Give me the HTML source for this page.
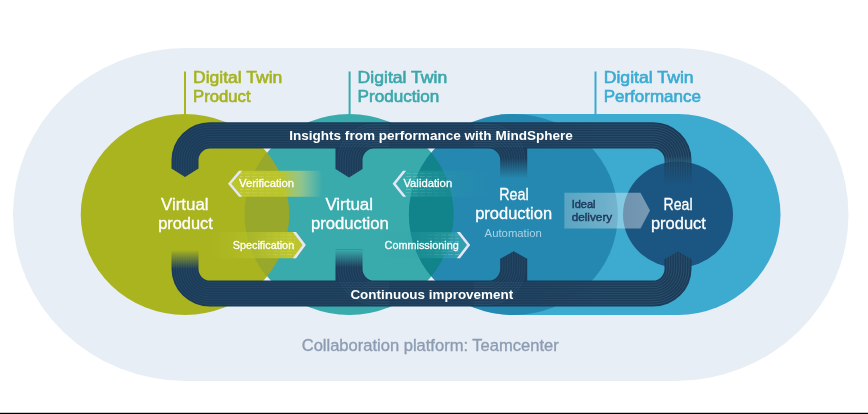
<!DOCTYPE html>
<html><head><meta charset="utf-8">
<style>
html,body{margin:0;padding:0;background:#fff;width:868px;height:414px;overflow:hidden}
svg{display:block}
text{font-family:"Liberation Sans",sans-serif}
</style></head>
<body>
<svg width="868" height="414" viewBox="0 0 868 414">
<defs>
  <clipPath id="cGreen"><ellipse cx="185" cy="214.5" rx="104.25" ry="100.5"/></clipPath>
  <clipPath id="cTeal"><ellipse cx="349.3" cy="214.5" rx="104.25" ry="100.5"/></clipPath>
  <clipPath id="cBand"><path d="M171.5,168.5 L171.5,160.10 A38.50,37.90 0 0 1 210.00,122.2 L653.00,122.2 A38.50,37.90 0 0 1 691.50,160.10 L691.50,192 L664.5,192 L664.5,160.10 A11.5,11.5 0 0 0 653.00,148.6 L527.20,148.6 L527.20,182 L500.2,182 L500.2,160.10 A11.5,11.5 0 0 0 488.70,148.6 L374.00,148.6 A11.5,11.5 0 0 0 362.50,160.10 L362.50,169 L349.00,177.4 L335.5,169 L335.5,148.6 L210.00,148.6 A11.5,11.5 0 0 0 198.50,160.10 L198.50,168.5 L185.00,177 Z"/><path d="M171.5,246 L171.5,269.00 A38.50,37.60 0 0 0 210.00,306.6 L653.00,306.6 A38.50,37.60 0 0 0 691.50,269.00 L691.50,259.3 L678.00,251.6 L664.5,259.3 L664.5,269.00 A11.5,11.5 0 0 1 653.00,280.5 L527.20,280.5 L527.20,258.8 L513.70,251.3 L500.2,258.8 L500.2,269.00 A11.5,11.5 0 0 1 488.70,280.5 L374.00,280.5 A11.5,11.5 0 0 1 362.50,269.00 L362.50,246 L335.5,246 L335.5,280.5 L210.00,280.5 A11.5,11.5 0 0 1 198.50,269.00 L198.50,246 Z"/></clipPath>
  <linearGradient id="gVer" x1="228" x2="322" y1="0" y2="0" gradientUnits="userSpaceOnUse">
    <stop offset="0" stop-color="#BCC62B" stop-opacity="1"/>
    <stop offset="0.58" stop-color="#BCC62B" stop-opacity="0.95"/>
    <stop offset="0.78" stop-color="#C8D47A" stop-opacity="0.6"/>
    <stop offset="1" stop-color="#D0DA9A" stop-opacity="0"/>
  </linearGradient>
  <linearGradient id="gSpe" x1="212" x2="306" y1="0" y2="0" gradientUnits="userSpaceOnUse">
    <stop offset="0" stop-color="#BCC62B" stop-opacity="0"/>
    <stop offset="0.45" stop-color="#BCC62B" stop-opacity="0.55"/>
    <stop offset="0.8" stop-color="#BCC62B" stop-opacity="1"/>
    <stop offset="1" stop-color="#BCC62B" stop-opacity="1"/>
  </linearGradient>
  <linearGradient id="gVal" x1="392" x2="488" y1="0" y2="0" gradientUnits="userSpaceOnUse">
    <stop offset="0" stop-color="#3AB0AE" stop-opacity="0.7"/>
    <stop offset="0.3" stop-color="#2AA3A6" stop-opacity="0.4"/>
    <stop offset="1" stop-color="#2AA3A6" stop-opacity="0"/>
  </linearGradient>
  <linearGradient id="gCom" x1="368" x2="470" y1="0" y2="0" gradientUnits="userSpaceOnUse">
    <stop offset="0" stop-color="#2AA3A6" stop-opacity="0"/>
    <stop offset="0.6" stop-color="#2AA3A6" stop-opacity="0.35"/>
    <stop offset="1" stop-color="#3AB0AE" stop-opacity="0.7"/>
  </linearGradient>
  <linearGradient id="gStripe" x1="160" x2="700" y1="0" y2="0" gradientUnits="userSpaceOnUse">
    <stop offset="0" stop-color="#5C9DB0" stop-opacity="0.15"/>
    <stop offset="0.7" stop-color="#5C9DB0" stop-opacity="0.18"/>
    <stop offset="0.82" stop-color="#5C9DB0" stop-opacity="0.27"/>
    <stop offset="1" stop-color="#5C9DB0" stop-opacity="0.27"/>
  </linearGradient>
  <linearGradient id="gIdeal" x1="564" x2="650" y1="0" y2="0" gradientUnits="userSpaceOnUse">
    <stop offset="0" stop-color="#fff" stop-opacity="0.24"/>
    <stop offset="0.6" stop-color="#fff" stop-opacity="0.36"/>
    <stop offset="1" stop-color="#fff" stop-opacity="0.4"/>
  </linearGradient>
  <pattern id="pDash" x="0" y="0.6" width="7" height="3.25" patternUnits="userSpaceOnUse">
    <rect x="0" y="0" width="5" height="0.8" fill="#fff"/>
  </pattern>
  <linearGradient id="mL" x1="0" x2="1" y1="0" y2="0">
    <stop offset="0" stop-color="#fff"/><stop offset="1" stop-color="#000"/>
  </linearGradient>
  <linearGradient id="mR" x1="0" x2="1" y1="0" y2="0">
    <stop offset="0" stop-color="#000"/><stop offset="1" stop-color="#fff"/>
  </linearGradient>
  <mask id="mkL" maskContentUnits="objectBoundingBox"><rect width="1" height="1" fill="url(#mL)"/></mask>
  <mask id="mkR" maskContentUnits="objectBoundingBox"><rect width="1" height="1" fill="url(#mR)"/></mask>
  <linearGradient id="mDown" x1="0" x2="0" y1="0" y2="1">
    <stop offset="0" stop-color="#fff"/><stop offset="1" stop-color="#000"/>
  </linearGradient>
  <linearGradient id="mUp" x1="0" x2="0" y1="0" y2="1">
    <stop offset="0" stop-color="#000"/><stop offset="1" stop-color="#fff"/>
  </linearGradient>
  <mask id="bandMask" maskUnits="userSpaceOnUse" x="0" y="0" width="868" height="414">
    <rect x="0" y="0" width="868" height="414" fill="#fff"/>
    <rect x="497" y="158" width="34" height="20" fill="url(#mDown)"/>
    <rect x="497" y="177.9" width="34" height="8" fill="#000"/>
    <rect x="663" y="156" width="30" height="28" fill="url(#mDown)"/>
    <rect x="663" y="184" width="30" height="10" fill="#000"/>
    <rect x="170" y="250" width="30" height="19" fill="url(#mUp)"/>
    <rect x="170" y="244" width="30" height="6" fill="#000"/>
    <rect x="334" y="249.7" width="30" height="17.5" fill="url(#mUp)"/>
    <rect x="334" y="244" width="30" height="5.7" fill="#000"/>
  </mask>
</defs>

<!-- light background pill -->
<rect x="13" y="48" width="835.5" height="333" rx="173" ry="166.5" fill="#E8EEF6"/>

<!-- light-blue pill -->
<rect x="409.5" y="114" width="371" height="201" rx="102.5" ry="100.5" fill="#3DAAD0"/>

<!-- circles -->
<ellipse cx="185" cy="214.5" rx="104.25" ry="100.5" fill="#A9B41F"/>
<ellipse cx="349.3" cy="214.5" rx="104.25" ry="100.5" fill="#3AABAC"/>
<ellipse cx="349.3" cy="214.5" rx="104.75" ry="101" fill="#97A82A" clip-path="url(#cGreen)"/>
<ellipse cx="513.6" cy="214.5" rx="104.25" ry="100.5" fill="#2588B0"/>
<ellipse cx="513.6" cy="214.5" rx="104.75" ry="101" fill="#11838A" clip-path="url(#cTeal)"/>
<ellipse cx="678" cy="214.5" rx="55" ry="53" fill="#1B5581"/>

<!-- arrows -->
<polygon points="239,170.8 322,170.8 322,196.8 239,196.8 228.2,183.8" fill="url(#gVer)"/>
<polygon points="239,170.8 228,183.8 239,196.8 242.2,196.8 231.2,183.8 242.2,170.8" fill="#E6E6F8"/>
<polygon points="403,170.8 488,170.8 488,196.8 403,196.8 392.7,183.8" fill="url(#gVal)"/>
<polygon points="403,170.8 392.6,183.8 403,196.8 406.2,196.8 395.8,183.8 406.2,170.8" fill="#E6E6F8"/>
<polygon points="212,232 296,232 305.6,245 296,258.2 212,258.2" fill="url(#gSpe)"/>
<polygon points="296,232 305.8,245.1 296,258.2 292.8,258.2 302.6,245.1 292.8,232" fill="#E6E6F8"/>
<polygon points="368,232 460,232 470,245 460,258.2 368,258.2" fill="url(#gCom)"/>
<polygon points="460,232 470.2,245.1 460,258.2 456.8,258.2 467,245.1 456.8,232" fill="#E6E6F8"/>
<g opacity="0.22">
<rect x="240" y="171.5" width="55" height="25" fill="url(#pDash)" mask="url(#mkL)"/>
<rect x="404" y="171.5" width="50" height="25" fill="url(#pDash)" mask="url(#mkL)"/>
<rect x="250" y="232.5" width="45" height="25" fill="url(#pDash)" mask="url(#mkR)"/>
<rect x="415" y="232.5" width="44" height="25" fill="url(#pDash)" mask="url(#mkR)"/>
</g>
<polygon points="564.4,192.8 640.5,192.8 650,210.6 640.5,228.6 564.4,228.6" fill="url(#gIdeal)"/>

<!-- bands -->
<g mask="url(#bandMask)">
  <path fill="#1B3B59" d="M171.5,168.5 L171.5,160.10 A38.50,37.90 0 0 1 210.00,122.2 L653.00,122.2 A38.50,37.90 0 0 1 691.50,160.10 L691.50,192 L664.5,192 L664.5,160.10 A11.5,11.5 0 0 0 653.00,148.6 L527.20,148.6 L527.20,182 L500.2,182 L500.2,160.10 A11.5,11.5 0 0 0 488.70,148.6 L374.00,148.6 A11.5,11.5 0 0 0 362.50,160.10 L362.50,169 L349.00,177.4 L335.5,169 L335.5,148.6 L210.00,148.6 A11.5,11.5 0 0 0 198.50,160.10 L198.50,168.5 L185.00,177 Z"/>
  <path fill="#1B3B59" d="M171.5,246 L171.5,269.00 A38.50,37.60 0 0 0 210.00,306.6 L653.00,306.6 A38.50,37.60 0 0 0 691.50,269.00 L691.50,259.3 L678.00,251.6 L664.5,259.3 L664.5,269.00 A11.5,11.5 0 0 1 653.00,280.5 L527.20,280.5 L527.20,258.8 L513.70,251.3 L500.2,258.8 L500.2,269.00 A11.5,11.5 0 0 1 488.70,280.5 L374.00,280.5 A11.5,11.5 0 0 1 362.50,269.00 L362.50,246 L335.5,246 L335.5,280.5 L210.00,280.5 A11.5,11.5 0 0 1 198.50,269.00 L198.50,246 Z"/>
  <g clip-path="url(#cBand)">
    <path d="M173.95,182 L173.95,160.10 A36.05,35.50 0 0 1 210.00,124.60 L653.00,124.60 A36.05,35.50 0 0 1 689.05,160.10 L689.05,192 M173.95,246 L173.95,269.00 A36.05,35.23 0 0 0 210.00,304.23 L653.00,304.23 A36.05,35.23 0 0 0 689.05,269.00 L689.05,246 M176.41,182 L176.41,160.10 A33.59,33.10 0 0 1 210.00,127.00 L653.00,127.00 A33.59,33.10 0 0 1 686.59,160.10 L686.59,192 M176.41,246 L176.41,269.00 A33.59,32.85 0 0 0 210.00,301.85 L653.00,301.85 A33.59,32.85 0 0 0 686.59,269.00 L686.59,246 M178.86,182 L178.86,160.10 A31.14,30.70 0 0 1 210.00,129.40 L653.00,129.40 A31.14,30.70 0 0 1 684.14,160.10 L684.14,192 M178.86,246 L178.86,269.00 A31.14,30.48 0 0 0 210.00,299.48 L653.00,299.48 A31.14,30.48 0 0 0 684.14,269.00 L684.14,246 M181.32,182 L181.32,160.10 A28.68,28.30 0 0 1 210.00,131.80 L653.00,131.80 A28.68,28.30 0 0 1 681.68,160.10 L681.68,192 M181.32,246 L181.32,269.00 A28.68,28.11 0 0 0 210.00,297.11 L653.00,297.11 A28.68,28.11 0 0 0 681.68,269.00 L681.68,246 M183.77,182 L183.77,160.10 A26.23,25.90 0 0 1 210.00,134.20 L653.00,134.20 A26.23,25.90 0 0 1 679.23,160.10 L679.23,192 M183.77,246 L183.77,269.00 A26.23,25.74 0 0 0 210.00,294.74 L653.00,294.74 A26.23,25.74 0 0 0 679.23,269.00 L679.23,246 M186.23,182 L186.23,160.10 A23.77,23.50 0 0 1 210.00,136.60 L653.00,136.60 A23.77,23.50 0 0 1 676.77,160.10 L676.77,192 M186.23,246 L186.23,269.00 A23.77,23.36 0 0 0 210.00,292.36 L653.00,292.36 A23.77,23.36 0 0 0 676.77,269.00 L676.77,246 M188.68,182 L188.68,160.10 A21.32,21.10 0 0 1 210.00,139.00 L653.00,139.00 A21.32,21.10 0 0 1 674.32,160.10 L674.32,192 M188.68,246 L188.68,269.00 A21.32,20.99 0 0 0 210.00,289.99 L653.00,289.99 A21.32,20.99 0 0 0 674.32,269.00 L674.32,246 M191.14,182 L191.14,160.10 A18.86,18.70 0 0 1 210.00,141.40 L653.00,141.40 A18.86,18.70 0 0 1 671.86,160.10 L671.86,192 M191.14,246 L191.14,269.00 A18.86,18.62 0 0 0 210.00,287.62 L653.00,287.62 A18.86,18.62 0 0 0 671.86,269.00 L671.86,246 M193.59,182 L193.59,160.10 A16.41,16.30 0 0 1 210.00,143.80 L653.00,143.80 A16.41,16.30 0 0 1 669.41,160.10 L669.41,192 M193.59,246 L193.59,269.00 A16.41,16.25 0 0 0 210.00,285.25 L653.00,285.25 A16.41,16.25 0 0 0 669.41,269.00 L669.41,246 M196.05,182 L196.05,160.10 A13.95,13.90 0 0 1 210.00,146.20 L653.00,146.20 A13.95,13.90 0 0 1 666.95,160.10 L666.95,192 M196.05,246 L196.05,269.00 A13.95,13.87 0 0 0 210.00,282.87 L653.00,282.87 A13.95,13.87 0 0 0 666.95,269.00 L666.95,246 M337.95,182 L337.95,160.10 A36.05,35.50 0 0 1 374.00,124.60 L389.00,124.60 M337.95,246 L337.95,269.00 A36.05,35.23 0 0 0 374.00,304.23 L389.00,304.23 M524.75,182 L524.75,160.10 A36.05,35.50 0 0 0 488.70,124.60 L473.70,124.60 M524.75,246 L524.75,269.00 A36.05,35.23 0 0 1 488.70,304.23 L473.70,304.23 M340.41,182 L340.41,160.10 A33.59,33.10 0 0 1 374.00,127.00 L389.00,127.00 M340.41,246 L340.41,269.00 A33.59,32.85 0 0 0 374.00,301.85 L389.00,301.85 M522.29,182 L522.29,160.10 A33.59,33.10 0 0 0 488.70,127.00 L473.70,127.00 M522.29,246 L522.29,269.00 A33.59,32.85 0 0 1 488.70,301.85 L473.70,301.85 M342.86,182 L342.86,160.10 A31.14,30.70 0 0 1 374.00,129.40 L389.00,129.40 M342.86,246 L342.86,269.00 A31.14,30.48 0 0 0 374.00,299.48 L389.00,299.48 M519.84,182 L519.84,160.10 A31.14,30.70 0 0 0 488.70,129.40 L473.70,129.40 M519.84,246 L519.84,269.00 A31.14,30.48 0 0 1 488.70,299.48 L473.70,299.48 M345.32,182 L345.32,160.10 A28.68,28.30 0 0 1 374.00,131.80 L389.00,131.80 M345.32,246 L345.32,269.00 A28.68,28.11 0 0 0 374.00,297.11 L389.00,297.11 M517.38,182 L517.38,160.10 A28.68,28.30 0 0 0 488.70,131.80 L473.70,131.80 M517.38,246 L517.38,269.00 A28.68,28.11 0 0 1 488.70,297.11 L473.70,297.11 M347.77,182 L347.77,160.10 A26.23,25.90 0 0 1 374.00,134.20 L389.00,134.20 M347.77,246 L347.77,269.00 A26.23,25.74 0 0 0 374.00,294.74 L389.00,294.74 M514.93,182 L514.93,160.10 A26.23,25.90 0 0 0 488.70,134.20 L473.70,134.20 M514.93,246 L514.93,269.00 A26.23,25.74 0 0 1 488.70,294.74 L473.70,294.74 M350.23,182 L350.23,160.10 A23.77,23.50 0 0 1 374.00,136.60 L389.00,136.60 M350.23,246 L350.23,269.00 A23.77,23.36 0 0 0 374.00,292.36 L389.00,292.36 M512.47,182 L512.47,160.10 A23.77,23.50 0 0 0 488.70,136.60 L473.70,136.60 M512.47,246 L512.47,269.00 A23.77,23.36 0 0 1 488.70,292.36 L473.70,292.36 M352.68,182 L352.68,160.10 A21.32,21.10 0 0 1 374.00,139.00 L389.00,139.00 M352.68,246 L352.68,269.00 A21.32,20.99 0 0 0 374.00,289.99 L389.00,289.99 M510.02,182 L510.02,160.10 A21.32,21.10 0 0 0 488.70,139.00 L473.70,139.00 M510.02,246 L510.02,269.00 A21.32,20.99 0 0 1 488.70,289.99 L473.70,289.99 M355.14,182 L355.14,160.10 A18.86,18.70 0 0 1 374.00,141.40 L389.00,141.40 M355.14,246 L355.14,269.00 A18.86,18.62 0 0 0 374.00,287.62 L389.00,287.62 M507.56,182 L507.56,160.10 A18.86,18.70 0 0 0 488.70,141.40 L473.70,141.40 M507.56,246 L507.56,269.00 A18.86,18.62 0 0 1 488.70,287.62 L473.70,287.62 M357.59,182 L357.59,160.10 A16.41,16.30 0 0 1 374.00,143.80 L389.00,143.80 M357.59,246 L357.59,269.00 A16.41,16.25 0 0 0 374.00,285.25 L389.00,285.25 M505.11,182 L505.11,160.10 A16.41,16.30 0 0 0 488.70,143.80 L473.70,143.80 M505.11,246 L505.11,269.00 A16.41,16.25 0 0 1 488.70,285.25 L473.70,285.25 M360.05,182 L360.05,160.10 A13.95,13.90 0 0 1 374.00,146.20 L389.00,146.20 M360.05,246 L360.05,269.00 A13.95,13.87 0 0 0 374.00,282.87 L389.00,282.87 M502.65,182 L502.65,160.10 A13.95,13.90 0 0 0 488.70,146.20 L473.70,146.20 M502.65,246 L502.65,269.00 A13.95,13.87 0 0 1 488.70,282.87 L473.70,282.87" fill="none" stroke="url(#gStripe)" stroke-width="0.75"/>
  </g>
</g>

<!-- header lines -->
<rect x="184" y="71.5" width="2" height="43" fill="#A9B41F"/>
<rect x="348.6" y="71.5" width="2" height="43" fill="#3AABAC"/>
<rect x="594.5" y="71.5" width="2" height="43" fill="#3DAAD0"/>

<!-- header text -->
<g font-size="16.5" stroke-width="0.6">
<text x="193" y="83" fill="#A6B31E" stroke="#A6B31E" textLength="89.3" lengthAdjust="spacingAndGlyphs">Digital Twin</text>
<text x="193" y="101.8" fill="#A6B31E" stroke="#A6B31E" textLength="57.6" lengthAdjust="spacingAndGlyphs">Product</text>
<text x="357.6" y="83" fill="#3BA7AA" stroke="#3BA7AA" textLength="89.7" lengthAdjust="spacingAndGlyphs">Digital Twin</text>
<text x="357.6" y="101.8" fill="#3BA7AA" stroke="#3BA7AA" textLength="81.8" lengthAdjust="spacingAndGlyphs">Production</text>
<text x="603.7" y="83" fill="#3AABD3" stroke="#3AABD3" textLength="90" lengthAdjust="spacingAndGlyphs">Digital Twin</text>
<text x="603.7" y="101.8" fill="#3AABD3" stroke="#3AABD3" textLength="97.2" lengthAdjust="spacingAndGlyphs">Performance</text>
</g>

<!-- circle labels -->
<g font-size="16.3" fill="#FFFFFF" stroke="#FFFFFF" stroke-width="0.3">
<text x="160.9" y="210.3" textLength="47.7" lengthAdjust="spacingAndGlyphs">Virtual</text>
<text x="158.2" y="229.3" textLength="54.6" lengthAdjust="spacingAndGlyphs">product</text>
<text x="325.4" y="210" textLength="47.6" lengthAdjust="spacingAndGlyphs">Virtual</text>
<text x="310.9" y="229.3" textLength="77.9" lengthAdjust="spacingAndGlyphs">production</text>
<text x="499.2" y="199.6" textLength="29.4" lengthAdjust="spacingAndGlyphs">Real</text>
<text x="475.2" y="218.5" textLength="76.9" lengthAdjust="spacingAndGlyphs">production</text>
<text x="663.6" y="210.3" textLength="29" lengthAdjust="spacingAndGlyphs">Real</text>
<text x="650.9" y="229.3" textLength="55" lengthAdjust="spacingAndGlyphs">product</text>
</g>
<text x="484.6" y="236.5" font-size="11" fill="#A9D3E6" textLength="57.3" lengthAdjust="spacingAndGlyphs">Automation</text>

<!-- arrow labels -->
<g font-size="11.2" fill="#FFFFFF" stroke="#FFFFFF" stroke-width="0.3">
<text x="239" y="187.2" textLength="55.1" lengthAdjust="spacingAndGlyphs">Verification</text>
<text x="403.4" y="187.2" textLength="48.8" lengthAdjust="spacingAndGlyphs">Validation</text>
<text x="232.7" y="249.1" textLength="61.5" lengthAdjust="spacingAndGlyphs">Specification</text>
<text x="384.6" y="249.1" textLength="74.1" lengthAdjust="spacingAndGlyphs">Commissioning</text>
</g>
<g font-size="11" fill="#1D3859" stroke="#1D3859" stroke-width="0.45">
<text x="571.7" y="207.5">Ideal</text>
<text x="571.7" y="220.6" textLength="40.5" lengthAdjust="spacingAndGlyphs">delivery</text>
</g>

<!-- band labels -->
<g font-size="13" font-weight="bold" fill="#FFFFFF">
<text x="289.2" y="139.9" textLength="283.7" lengthAdjust="spacingAndGlyphs">Insights from performance with MindSphere</text>
<text x="350.4" y="298.7" textLength="162.8" lengthAdjust="spacingAndGlyphs">Continuous improvement</text>
</g>

<!-- platform -->
<text x="301.7" y="351.2" font-size="16.3" fill="#8C9CB2" stroke="#8C9CB2" stroke-width="0.35" textLength="257" lengthAdjust="spacingAndGlyphs">Collaboration platform: Teamcenter</text>

<!-- bottom black line -->
<rect x="0" y="412.8" width="868" height="1.2" fill="#000"/>
</svg>
</body></html>
